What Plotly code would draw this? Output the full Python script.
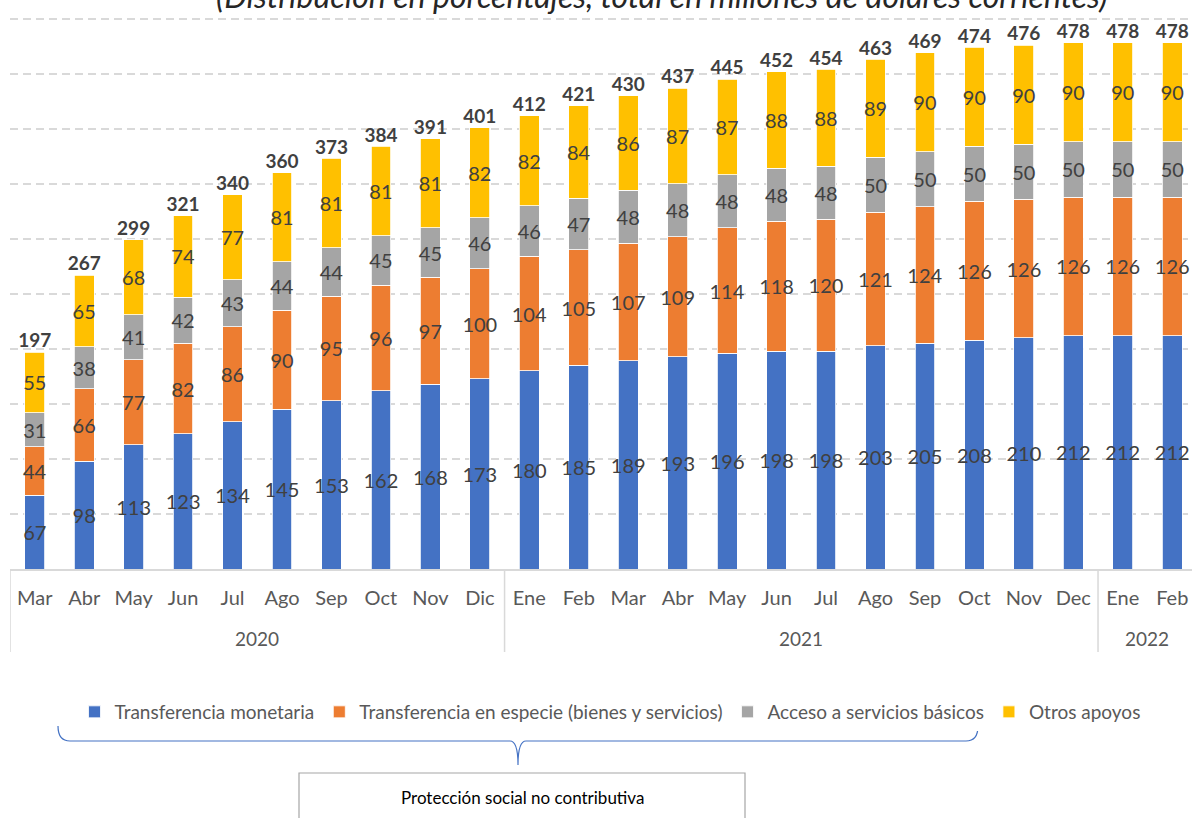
import plotly.graph_objects as go

# data
years = ["2020"] * 10 + ["2021"] * 12 + ["2022"] * 2
months = ["Mar", "Abr", "May", "Jun", "Jul", "Ago", "Sep", "Oct", "Nov", "Dic",
          "Ene", "Feb", "Mar", "Abr", "May", "Jun", "Jul", "Ago", "Sep", "Oct", "Nov", "Dec",
          "Ene", "Feb"]
monetaria = [67, 98, 113, 123, 134, 145, 153, 162, 168, 173,
             180, 185, 189, 193, 196, 198, 198, 203, 205, 208, 210, 212,
             212, 212]
especie = [44, 66, 77, 82, 86, 90, 95, 96, 97, 100,
           104, 105, 107, 109, 114, 118, 120, 121, 124, 126, 126, 126,
           126, 126]
basicos = [31, 38, 41, 42, 43, 44, 44, 45, 45, 46,
           46, 47, 48, 48, 48, 48, 48, 50, 50, 50, 50, 50,
           50, 50]
otros = [55, 65, 68, 74, 77, 81, 81, 81, 81, 82,
         82, 84, 86, 87, 87, 88, 88, 89, 90, 90, 90, 90,
         90, 90]
totales = [197, 267, 299, 321, 340, 360, 373, 384, 391, 401,
           412, 421, 430, 437, 445, 452, 454, 463, 469, 474, 476, 478,
           478, 478]

series = [
    ("Transferencia monetaria", monetaria, "#4472C4"),
    ("Transferencia en especie (bienes y servicios)", especie, "#ED7D31"),
    ("Acceso a servicios básicos", basicos, "#A5A5A5"),
    ("Otros apoyos", otros, "#FFC000"),
]

FONT = "Lato"
W, H = 1192, 818
L, R, T, B = 10, 0, 0, 249
pw, ph = W - L - R, H - T - B


def px(x):
    return (x - L) / pw


def py(y):
    return (H - B - y) / ph


idx = list(range(len(months)))
fig = go.Figure()
for name, vals, color in series:
    fig.add_trace(go.Bar(
        x=idx, y=vals, name=name,
        marker=dict(color=color, line=dict(color="white", width=0.8)),
        text=vals, textposition="inside", insidetextanchor="middle",
        textangle=0, constraintext="none",
        textfont=dict(family=FONT, size=20, color="#404040"),
    ))

fig.add_trace(go.Scatter(
    x=idx, y=totales, mode="text", text=[f"<b>{t}</b>" for t in totales],
    textposition="top center", showlegend=False,
    textfont=dict(family=FONT, size=19, color="#404040"),
))

# year groups: labels and separators
shapes = []
annotations = []
groups = []
for i, yv in enumerate(years):
    if not groups or groups[-1][0] != yv:
        groups.append([yv, i, i])
    else:
        groups[-1][2] = i
for yv, a, b in groups:
    annotations.append(dict(text=yv, x=(a + b) / 2, xref="x", y=py(638), yref="paper",
                            showarrow=False, yanchor="middle",
                            font=dict(family=FONT, size=19, color="#595959")))
    shapes.append(dict(type="line", xref="x", yref="paper", x0=a - 0.5, x1=a - 0.5,
                       y0=0, y1=py(652), line=dict(color="#D9D9D9", width=1.5)))

# brace under the legend
bx0, bx1, bm = 58, 978, 518
yt, yh, ytip = 726, 741, 765
pts = (f"M {px(bx0)} {py(yt)} Q {px(bx0)} {py(yh)} {px(bx0 + 12)} {py(yh)} "
       f"L {px(bm - 8)} {py(yh)} Q {px(bm)} {py(yh)} {px(bm)} {py(ytip)} "
       f"Q {px(bm)} {py(yh)} {px(bm + 8)} {py(yh)} "
       f"L {px(bx1 - 12)} {py(yh)} Q {px(bx1)} {py(yh)} {px(bx1)} {py(yt)}")
shapes += [
    dict(type="path", xref="paper", yref="paper", path=pts,
         line=dict(color="#4472C4", width=1.2)),
    dict(type="rect", xref="paper", yref="paper",
         x0=px(299), x1=px(745), y0=py(773), y1=py(840),
         line=dict(color="#A6A6A6", width=1.2), fillcolor="white"),
]

annotations += [
    dict(text="(Distribución en porcentajes, total en millones de dólares corrientes)",
         xref="paper", yref="paper", x=px(661), y=py(17), showarrow=False,
         xanchor="center", yanchor="bottom",
         font=dict(family=FONT, size=32, color="#262626", style="italic")),
    dict(text="Protección social no contributiva", xref="paper", yref="paper",
         x=px(522), y=py(798), showarrow=False, xanchor="center", yanchor="middle",
         font=dict(family=FONT, size=17, color="#000000")),
]

fig.update_layout(
    width=W, height=H,
    margin=dict(l=L, r=R, t=T, b=B),
    barmode="stack", bargap=0.6,
    plot_bgcolor="white", paper_bgcolor="white",
    font=dict(family=FONT, color="#595959"),
    showlegend=True,
    legend=dict(orientation="h", x=px(610), xanchor="center", y=py(712), yanchor="middle",
                font=dict(family=FONT, size=19, color="#595959"),
                itemwidth=30, traceorder="normal"),
    shapes=shapes, annotations=annotations,
    xaxis=dict(range=[-0.5, 23.4], tickvals=idx, ticktext=months,
               showline=True, linecolor="#D9D9D9", linewidth=1.5,
               showgrid=False, zeroline=False, ticks="", ticklabelstandoff=10,
               tickfont=dict(family=FONT, size=20, color="#595959")),
    yaxis=dict(range=[0, 517], dtick=50, showticklabels=False,
               showgrid=True, gridcolor="#D9D9D9", griddash="8px,5px", gridwidth=1.5,
               zeroline=False),
)

fig.write_html("out.html", config={"displayModeBar": False},
               post_script="document.body.style.margin='0';")
